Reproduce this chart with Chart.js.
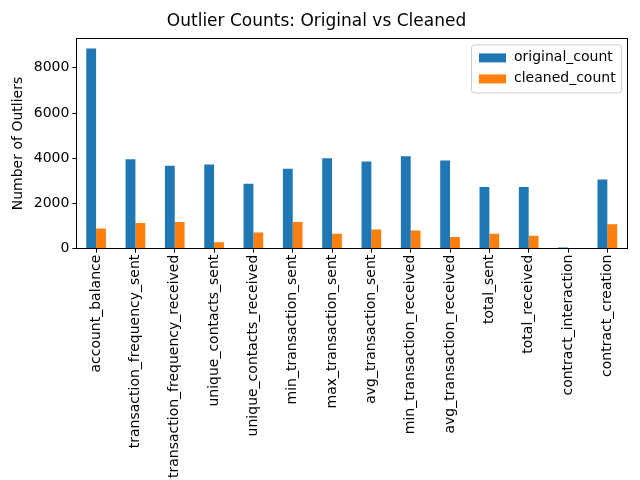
<!DOCTYPE html>
<html>
<head>
<meta charset="utf-8">
<script src="https://cdn.jsdelivr.net/npm/chart.js@4"></script>
<style>body{margin:0;background:#fff}</style>
</head>
<body>
<canvas id="c" width="640" height="480"></canvas>
<script>
// ===== DATA =====
var categories = ['account_balance', 'transaction_frequency_sent', 'transaction_frequency_received',
    'unique_contacts_sent', 'unique_contacts_received', 'min_transaction_sent', 'max_transaction_sent',
    'avg_transaction_sent', 'min_transaction_received', 'avg_transaction_received', 'total_sent',
    'total_received', 'contract_interaction', 'contract_creation'];
var originalCount = [8850, 3950, 3670, 3720, 2870, 3530, 4000, 3860, 4090, 3900, 2730, 2730, 50, 3060];
var cleanedCount = [890, 1130, 1180, 280, 710, 1180, 660, 850, 800, 520, 660, 570, 0, 1080];
var yTicks = [0, 2000, 4000, 6000, 8000];

// ===== LEGEND + FRAME =====
var innerLegend = {
    id: 'innerLegend',
    afterDraw: function(chart) {
        var ctx = chart.ctx, a = chart.chartArea;
        ctx.save();
        ctx.strokeStyle = '#000';
        ctx.lineWidth = 1;
        ctx.strokeRect(Math.round(a.left) + 0.5, Math.round(a.top) + 0.5,
            Math.round(a.right - a.left), Math.round(a.bottom - a.top));
        var w = 150, h = 48, x = a.right - w - 6, y = a.top + 6;
        ctx.fillStyle = 'rgba(255,255,255,0.8)';
        ctx.strokeStyle = '#cccccc';
        ctx.beginPath();
        ctx.roundRect(x + 0.5, y + 0.5, w, h, 3);
        ctx.fill();
        ctx.stroke();
        ctx.font = '14px "DejaVu Sans"';
        ctx.textBaseline = 'middle';
        chart.data.datasets.forEach(function(ds, i) {
            var ly = y + 13 + i * 21;
            ctx.fillStyle = ds.backgroundColor;
            ctx.fillRect(x + 8, ly - 4, 27, 9);
            ctx.fillStyle = '#000';
            ctx.fillText(ds.label, x + 43, ly);
        });
        ctx.restore();
    }
};

new Chart(document.getElementById('c'), {
    type: 'bar',
    data: {
        labels: categories,
        datasets: [
            { label: 'original_count', data: originalCount, backgroundColor: '#1f77b4' },
            { label: 'cleaned_count', data: cleanedCount, backgroundColor: '#ff7f0e' }
        ]
    },
    options: {
        responsive: false,
        animation: false,
        categoryPercentage: 0.5,
        barPercentage: 1,
        layout: { padding: { left: 6, right: 13, top: 0, bottom: 0 } },
        plugins: {
            legend: { display: false },
            tooltip: { enabled: false },
            title: {
                display: true,
                text: 'Outlier Counts: Original vs Cleaned',
                color: '#000',
                font: { size: 17, family: 'DejaVu Sans', weight: 'normal' },
                padding: { top: 11, bottom: 7 }
            }
        },
        scales: {
            x: {
                grid: { drawOnChartArea: false, offset: false, color: '#000', tickLength: 4 },
                border: { color: '#000' },
                ticks: { color: '#000', maxRotation: 90, minRotation: 90, padding: 2, font: { size: 14, family: 'DejaVu Sans' } }
            },
            y: {
                min: 0,
                max: 9300,
                afterBuildTicks: function(s) { s.ticks = yTicks.map(function(v) { return { value: v }; }); },
                grid: { drawOnChartArea: false, color: '#000', tickLength: 4 },
                border: { color: '#000' },
                ticks: { color: '#000', font: { size: 14, family: 'DejaVu Sans' }, callback: function(v) { return String(v); } },
                title: { display: true, text: 'Number of Outliers', color: '#000', font: { size: 14, family: 'DejaVu Sans' } }
            }
        }
    },
    plugins: [innerLegend]
});
</script>
</body>
</html>
